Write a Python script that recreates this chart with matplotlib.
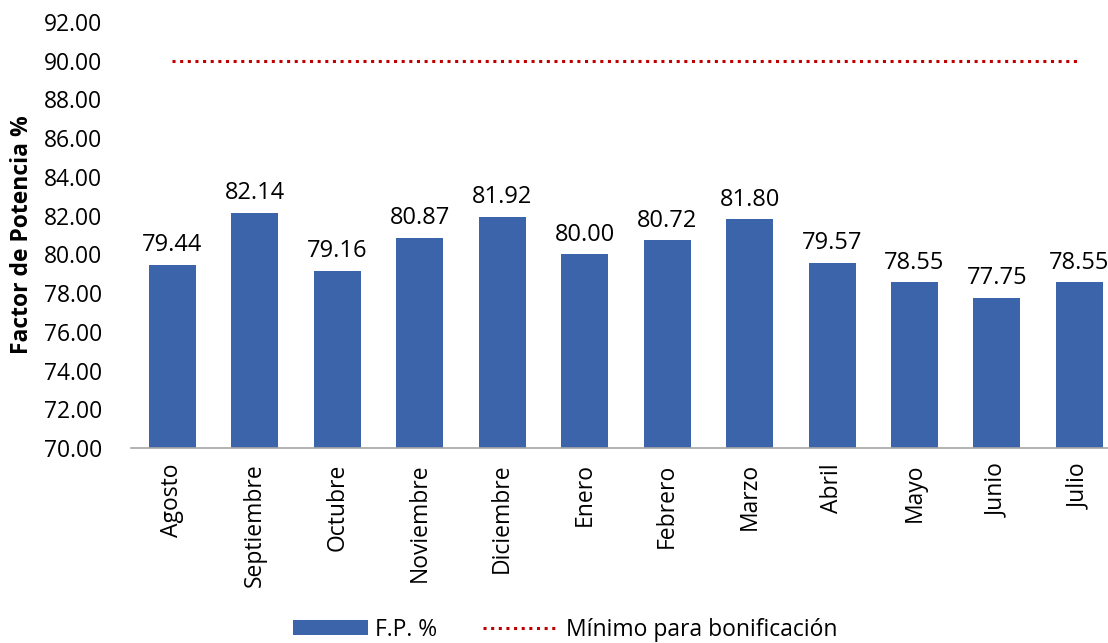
import matplotlib
matplotlib.use("Agg")
import matplotlib.pyplot as plt
from matplotlib.lines import Line2D
from matplotlib.patches import Patch

months = ["Agosto", "Septiembre", "Octubre", "Noviembre", "Diciembre", "Enero",
          "Febrero", "Marzo", "Abril", "Mayo", "Junio", "Julio"]
fp_values = [79.44, 82.14, 79.16, 80.87, 81.92, 80.00, 80.72, 81.80, 79.57, 78.55, 77.75, 78.55]
minimo = [90.0] * len(months)
y_ticks = [70, 72, 74, 76, 78, 80, 82, 84, 86, 88, 90, 92]

FONT = "Open Sans"
plt.rcParams["font.family"] = [FONT, "DejaVu Sans"]
BAR_COLOR = "#3C64AA"
RED = "#C00000"
FS = 16.5

fig = plt.figure(figsize=(11.08, 6.43), dpi=100)
ax = fig.add_axes([0.1184, 0.3033, 0.893, 0.6625])

x = list(range(len(months)))
ax.bar(x, fp_values, width=0.57, color=BAR_COLOR, zorder=2)
ax.plot(x, minimo, linestyle=(0, (1, 1.5)), color=RED, linewidth=2.2, zorder=3)

for xi, v in zip(x, fp_values):
    ax.text(xi, v + 0.4, f"{v:.2f}", ha="center", va="bottom", fontsize=17, color="#000000")

ax.set_xlim(-0.5, len(months) - 0.5)
ax.set_ylim(70, 92)
ax.set_yticks(y_ticks)
ax.set_yticklabels([f"{t:.2f}" for t in y_ticks], fontsize=FS)
ax.set_xticks(x)
ax.set_xticklabels(months, rotation=90, fontsize=FS)
ax.tick_params(axis="both", length=0)
ax.tick_params(axis="y", pad=21)
ax.tick_params(axis="x", pad=11)
for s in ["top", "right", "left"]:
    ax.spines[s].set_visible(False)
ax.spines["bottom"].set_color("#A6A6A6")
ax.spines["bottom"].set_linewidth(1.2)
ax.set_ylabel("Factor de Potencia %", fontsize=FS, fontweight="bold", labelpad=7)

handles = [Patch(facecolor=BAR_COLOR, label="F.P. %"),
           Line2D([0], [0], linestyle=(0, (1, 1.5)), color=RED, linewidth=2.2, label="Mínimo para bonificación")]
fig.legend(handles=handles, loc="lower center", bbox_to_anchor=(0.51, 0.002), ncol=2, frameon=False,
           fontsize=FS, handlelength=3.3, handleheight=0.6, columnspacing=2.0, handletextpad=0.3,
           borderpad=0.0, borderaxespad=0.0)

fig.savefig("out.png", dpi=100)
